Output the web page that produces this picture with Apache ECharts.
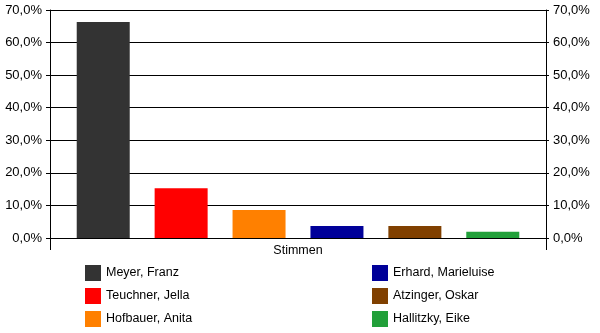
<!DOCTYPE html>
<html><head><meta charset="utf-8">
<script src="https://cdn.jsdelivr.net/npm/echarts@6/dist/echarts.min.js"></script>
<style>html,body{margin:0;padding:0;background:#fff}#c{width:600px;height:333px}</style>
</head><body><div id="c"></div>
<script>
const categories = ['Stimmen'];
const names = ['Meyer, Franz','Teuchner, Jella','Hofbauer, Anita','Erhard, Marieluise','Atzinger, Oskar','Hallitzky, Eike'];
const values = [66.3, 15.3, 8.6, 3.7, 3.7, 1.9];
const colors = ['#333333','#ff0000','#ff8000','#000099','#804000','#22a03a'];
const yTicks = [0,10,20,30,40,50,60,70];

const fmt = v => v.toFixed(1).replace('.', ',') + '%';
const font = 'Liberation Sans, Arial, sans-serif';
const chart = echarts.init(document.getElementById('c'), null, {renderer:'canvas'});
const yAxisBase = (pos, tickLen, margin) => ({
  type:'value', position:pos, min:yTicks[0], max:yTicks[yTicks.length-1], interval:10,
  axisLine:{show:true, lineStyle:{color:'#000', width:1}},
  axisTick:{show:true, length:tickLen, lineStyle:{color:'#000'}},
  splitLine:{show: pos==='left', lineStyle:{color:'#000', width:1}},
  axisLabel:{formatter:fmt, color:'#000', fontFamily:font, fontSize:13, margin:margin}
});
const legendBase = (left, data) => ({
  orient:'vertical', left:left, top:265, height:90, padding:0,
  itemWidth:16, itemHeight:16, itemGap:7, icon:'rect', data:data,
  textStyle:{color:'#000', fontFamily:font, fontSize:12.5}
});
chart.setOption({
  animation:false,
  grid:{left:50, right:54, top:10, bottom:95},
  xAxis:{type:'category', data:categories, boundaryGap:true,
    axisLine:{show:true, lineStyle:{color:'#000'}},
    axisTick:{show:true, length:12, alignWithLabel:false, lineStyle:{color:'#000'}},
    axisLabel:{color:'#000', fontFamily:font, fontSize:12.5, margin:6}},
  yAxis:[yAxisBase('left',4,8), yAxisBase('right',3,7)],
  legend:[legendBase(85, names.slice(0,3)), legendBase(372, names.slice(3))],
  series: names.map((n,i)=>({
    name:n, type:'bar', data:[values[i]], barWidth:53, barGap:'47%',
    itemStyle:{color:colors[i]}
  }))
});
</script></body></html>
